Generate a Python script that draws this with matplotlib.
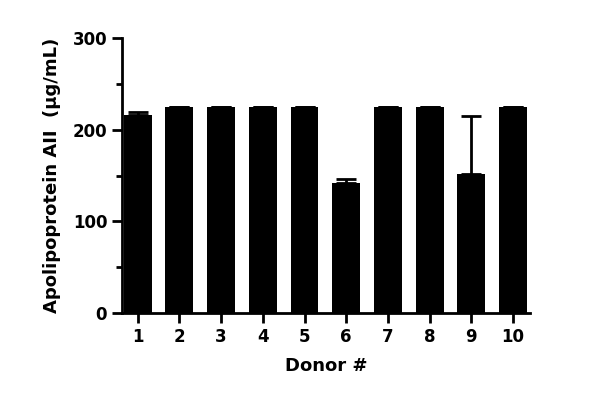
import matplotlib
matplotlib.use("Agg")
import matplotlib.pyplot as plt
from matplotlib.ticker import MultipleLocator

donors = ["1","2","3","4","5","6","7","8","9","10"]
values = [216, 225, 225, 225, 225, 142, 225, 225, 152, 225]
err_up = [3, 0, 0, 0, 0, 4, 0, 0, 63, 0]

plt.rcParams['font.family'] = ['DejaVu Sans']
plt.rcParams['font.weight'] = 'bold'
fig = plt.figure(figsize=(6, 4.04), dpi=100)
ax = fig.add_axes([0.203, 0.225, 0.68, 0.681])
x = list(range(1, len(donors) + 1))
ax.bar(x, values, width=0.67, color='black', zorder=2)
ax.errorbar(x, values, yerr=[[0]*len(x), err_up], fmt='none', ecolor='black',
            elinewidth=2, capsize=7, capthick=2, zorder=3)
ax.set_xlim(0.62, 10.4)
ax.set_ylim(0, 300)
ax.set_xticks(x)
ax.set_xticklabels(donors)
ax.set_yticks([0, 100, 200, 300])
ax.yaxis.set_minor_locator(MultipleLocator(50))
for s in ['top', 'right']:
    ax.spines[s].set_visible(False)
for s in ['left', 'bottom']:
    ax.spines[s].set_linewidth(2)
ax.tick_params(axis='both', which='major', width=2, length=7, labelsize=12)
ax.tick_params(axis='y', which='minor', width=2, length=4)
ax.set_xlabel("Donor #", fontsize=13, fontweight='bold', labelpad=8)
ax.set_ylabel("Apolipoprotein AII  (µg/mL)", fontsize=13, fontweight='bold', labelpad=8)
fig.savefig("out.png", dpi=100)
